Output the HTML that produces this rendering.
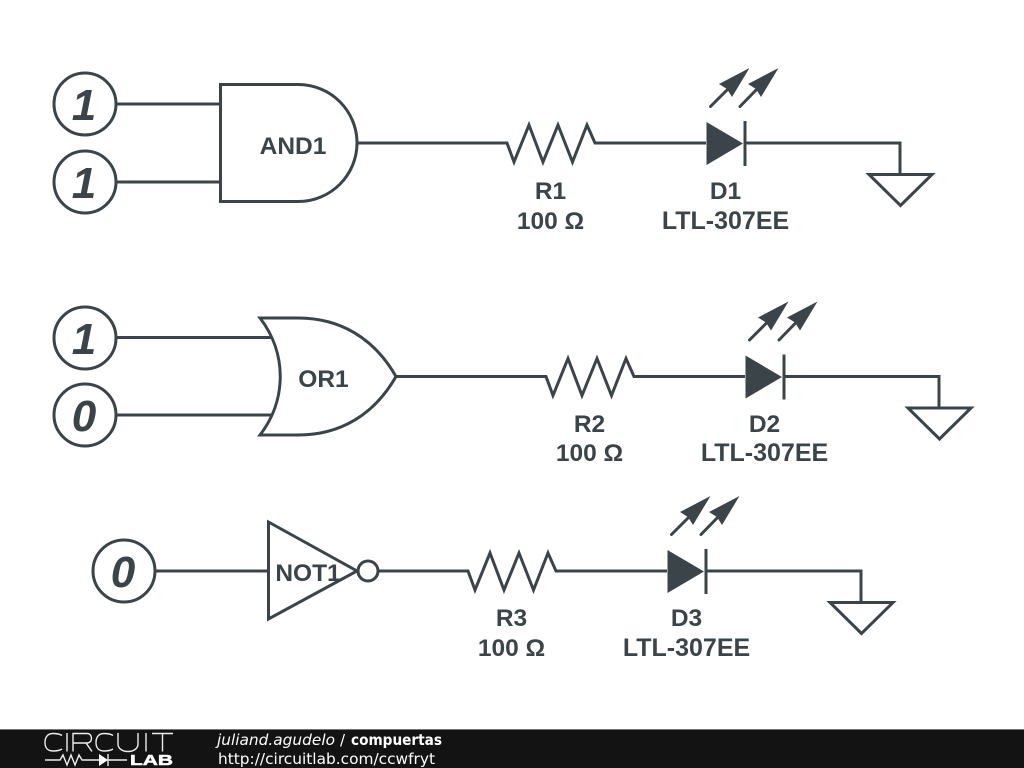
<!DOCTYPE html>
<html><head><meta charset="utf-8"><style>
html,body{margin:0;padding:0;background:#fff;width:1024px;height:768px;overflow:hidden}
svg{display:block}
.l{font-family:"Liberation Sans",sans-serif;font-weight:bold;font-size:24.5px;fill:#3b4449;text-anchor:middle}
.p{font-size:25px}
.n{font-family:"Liberation Sans",sans-serif;font-weight:bold;font-style:italic;font-size:44px;fill:#3b4449;text-anchor:middle}
.f{font-family:"DejaVu Sans",sans-serif;font-size:15px;fill:#fff}
.w{fill:none;stroke:#3b4449;stroke-width:3;stroke-linejoin:miter}
</style></head><body>
<svg width="1024" height="768" viewBox="0 0 1024 768" xmlns="http://www.w3.org/2000/svg">
<defs>
<g id="chain">
<path class="w" d="M505 143H507L514 162L529 125L543 162L558 125L572.500 162L587 125L595 143H706"/>
<path d="M706.500 122L743 143.500L706.500 165Z" fill="#3b4449"/>
<path class="w" d="M745 121V166M745 143H900V174"/>
<path class="w" d="M869 174.500H932L900.500 205.500Z" stroke-linejoin="round"/>
<path class="w" d="M710.500 106.500L729 88M740 106.500L758 88" stroke-linecap="round" stroke-width="3.500"/>
<path d="M749.500 68L719 84L727 89L732 97Z" fill="#3b4449"/>
<path d="M778.500 68L748 84L756 89L761 97Z" fill="#3b4449"/>
</g>
</defs>
<rect width="1024" height="768" fill="#fff"/>

<!-- AND row -->
<circle class="w" cx="85" cy="104" r="31"/>
<circle class="w" cx="85" cy="182" r="31"/>
<text class="n" x="84" y="120">1</text>
<text class="n" x="84" y="198">1</text>
<path class="w" d="M116 104H220M116 182H220"/>
<path class="w" d="M220.500 84.500H298C331 84.500 357 111 357 143C357 175 331 201.500 298 201.500H220.500Z"/>
<text class="l" x="293" y="154">AND1</text>
<path class="w" d="M357 143H507"/>
<use href="#chain"/>
<text class="l" x="550.500" y="199">R1</text>
<text class="l" x="550.500" y="229">100 Ω</text>
<text class="l" x="725.500" y="199">D1</text>
<text class="l p" x="725.500" y="229">LTL-307EE</text>

<!-- OR row -->
<circle class="w" cx="85" cy="338" r="31"/>
<circle class="w" cx="85" cy="415" r="31"/>
<text class="n" x="84" y="354">1</text>
<text class="n" x="84" y="431">0</text>
<path class="w" d="M116 337.500H272M116 415H272"/>
<path class="w" d="M260 318H298C340 318 374 338 396 376.500C374 415 340 435 298 435H260C287 400 287 353 260 318Z"/>
<text class="l" x="323.500" y="387">OR1</text>
<path class="w" d="M396 376.500H546"/>
<use href="#chain" x="39" y="233.500"/>
<text class="l" x="589.500" y="432">R2</text>
<text class="l" x="589.500" y="461">100 Ω</text>
<text class="l" x="764.500" y="432">D2</text>
<text class="l p" x="764.500" y="461">LTL-307EE</text>

<!-- NOT row -->
<circle class="w" cx="124" cy="571" r="31"/>
<text class="n" x="123" y="587">0</text>
<path class="w" d="M155 571H268"/>
<path class="w" d="M268.500 522L357 571L268.500 619Z"/>
<circle class="w" cx="368" cy="571" r="10"/>
<path class="w" d="M378 571H468"/>
<use href="#chain" x="-39" y="428"/>
<text class="l" x="308" y="581">NOT1</text>
<text class="l" x="511.500" y="626">R3</text>
<text class="l" x="511.500" y="656">100 Ω</text>
<text class="l" x="686.500" y="626">D3</text>
<text class="l p" x="686.500" y="656">LTL-307EE</text>

<!-- Footer -->
<rect x="0" y="729" width="1024" height="39" fill="#131313"/>
<rect x="0" y="729" width="1024" height="1" fill="#777"/>
<g fill="none" stroke="#eeeeee" stroke-width="1.400">
<path d="M62 735.500C59 733.500 56 733.500 53 733.500C47 733.500 45 738 45 742.500C45 747 47 751 53 751C56 751 59 751 62 749"/>
<path d="M67 733V751.500"/>
<path d="M73 751.500V733.500H87C93 733.500 93 743 87 743H73M86 743L92 751.500"/>
<path d="M113 735.500C110 733.500 107 733.500 104 733.500C98 733.500 96 738 96 742.500C96 747 98 751 104 751C107 751 110 751 113 749"/>
<path d="M118 733V744C118 754 138 754 138 744V733"/>
<path d="M146 733V751.500"/>
<path d="M152 733.500H173M162.500 733.500V751.500"/>
<path d="M45 760H60L63 755L67 765L71 755L75 765L79 755L82 760H99M108 760H127M108 754V766"/>
</g>
<path d="M99 754V766L108 760Z" fill="#fff"/>
<text x="130" y="765" font-family="Liberation Sans,sans-serif" font-weight="bold" font-size="15" fill="#fff" stroke="#fff" stroke-width="0.500" textLength="43" lengthAdjust="spacingAndGlyphs">LAB</text>
<text class="f" x="217" y="745" font-style="italic" textLength="118" lengthAdjust="spacingAndGlyphs">juliand.agudelo</text>
<text class="f" x="340" y="745">/</text>
<text class="f" x="351" y="745" font-weight="bold" textLength="91" lengthAdjust="spacingAndGlyphs">compuertas</text>
<text class="f" x="218" y="764" textLength="217" lengthAdjust="spacingAndGlyphs">http://circuitlab.com/ccwfryt</text>
</svg>
</body></html>
